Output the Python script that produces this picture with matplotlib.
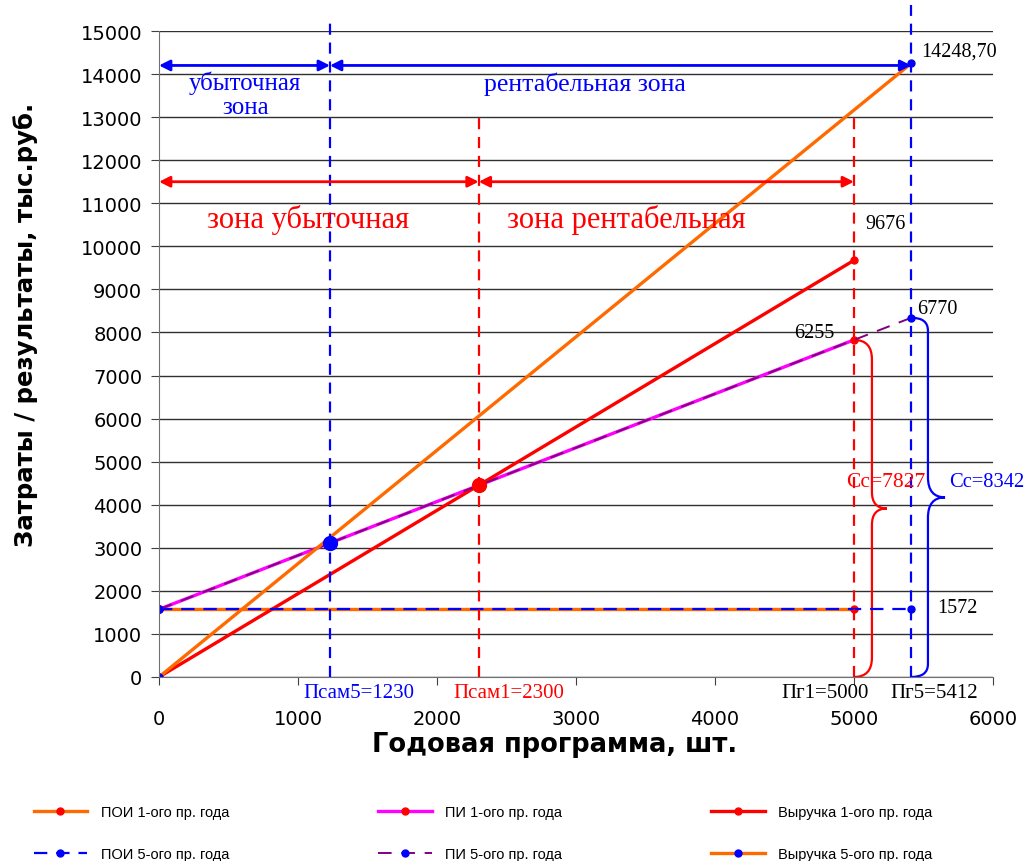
import matplotlib
matplotlib.use("Agg")
import matplotlib.pyplot as plt
from matplotlib.path import Path
from matplotlib.patches import PathPatch

# ---- data ----
x_year1 = [0, 5000]
x_year5 = [0, 5412]
poi1 = [1572, 1572]
pi1 = [1572, 7827]
rev1 = [0, 9676]
poi5 = [1572, 1572]
pi5 = [1572, 8342]
rev5 = [0, 14248.70]
breakeven5 = (1230, 3110)
breakeven1 = (2300, 4450)
x_ticks = [0, 1000, 2000, 3000, 4000, 5000, 6000]
y_ticks = list(range(0, 15001, 1000))

ORANGE = "#FF6A00"
MAGENTA = "#FF00FF"
PURPLE = "#800080"
RED = "#FF0000"
BLUE = "#0000FF"

W, H = 1027, 862
fig = plt.figure(figsize=(W / 100, H / 100), dpi=100)
ax = fig.add_axes([159/W, 1-678/H, (993-159)/W, (678-32)/H])
ax.set_xlim(0, 6000)
ax.set_ylim(0, 15000)
ax.set_xticks(x_ticks)
ax.set_yticks(y_ticks)
ax.tick_params(labelsize=14, length=6, color="#404040", direction="out")
ax.tick_params(axis="x", pad=17)
ax.tick_params(axis="y", pad=6)
ax.grid(axis="y", color="#303030", lw=1)
ax.set_axisbelow(True)
for s in ["top", "right"]:
    ax.spines[s].set_visible(False)
for s in ["left", "bottom"]:
    ax.spines[s].set_color("#707070")

lw = 2.4
ms = 5
ax.plot(x_year1, poi1, color=ORANGE, lw=lw, marker="o", mfc=RED, mec=RED, ms=ms, label="ПОИ 1-ого пр. года")
ax.plot(x_year1, pi1, color=MAGENTA, lw=lw, marker="o", mfc=RED, mec=RED, ms=ms, label="ПИ 1-ого пр. года")
ax.plot(x_year1, rev1, color=RED, lw=lw, marker="o", mfc=RED, mec=RED, ms=ms, label="Выручка 1-ого пр. года")
ax.plot(x_year5, poi5, color=BLUE, lw=1.6, ls=(0, (6, 4)), marker="o", mfc=BLUE, mec=BLUE, ms=ms, label="ПОИ 5-ого пр. года")
ax.plot(x_year5, pi5, color=PURPLE, lw=1.4, ls=(0, (7, 5)), marker="o", mfc=BLUE, mec=BLUE, ms=ms, label="ПИ 5-ого пр. года")
ax.plot(x_year5, rev5, color=ORANGE, lw=lw, marker="o", mfc=BLUE, mec=BLUE, ms=ms, label="Выручка 5-ого пр. года")

ax.plot([breakeven5[0]], [breakeven5[1]], "o", color=BLUE, ms=10, zorder=5)
ax.plot([breakeven1[0]], [breakeven1[1]], "o", color=RED, ms=10, zorder=5)

# vertical dashed lines
vd = dict(lw=1.6, ls=(0, (5, 3.5)))
ax.plot([breakeven5[0]] * 2, [0, 15350], color=BLUE, clip_on=False, **vd)
ax.plot([x_year5[1]] * 2, [0, 15600], color=BLUE, clip_on=False, **vd)
ax.plot([breakeven1[0]] * 2, [0, 13000], color=RED, **vd)
ax.plot([x_year1[1]] * 2, [0, 13000], color=RED, **vd)

# zone arrows
def darrow(x0, x1, y, c):
    ax.annotate("", xy=(x1, y), xytext=(x0, y),
                arrowprops=dict(arrowstyle="<|-|>", color=c, lw=2, mutation_scale=16,
                                shrinkA=0, shrinkB=0))

darrow(0, breakeven5[0], 14200, BLUE)
darrow(breakeven5[0], x_year5[1], 14200, BLUE)
darrow(0, breakeven1[0], 11500, RED)
darrow(breakeven1[0], x_year1[1], 11500, RED)

serif = "Liberation Serif"
ax.text(620, 13820, "убыточная", color=BLUE, family=serif, fontsize=18,
        ha="center", va="center")
ax.text(620, 13230, "зона", color=BLUE, family=serif, fontsize=18,
        ha="center", va="center")
ax.text(3065, 13790, "рентабельная зона", color=BLUE, family=serif, fontsize=18.5,
        ha="center", va="center")
ax.text(1072, 10640, "зона убыточная", color=RED, family=serif, fontsize=22,
        ha="center", va="center")
ax.text(3360, 10640, "зона рентабельная", color=RED, family=serif, fontsize=22,
        ha="center", va="center")

num = dict(family=serif, fontsize=14.5, va="center")
ax.text(5482, 14535, "14248,70", ha="left", **num)
ax.text(5080, 10540, "9676", ha="left", **num)
ax.text(5455, 8567, "6770", ha="left", **num)
ax.text(4860, 8010, "6255", ha="right", **num)
ax.text(5597, 1625, "1572", ha="left", **num)
ax.text(5230, 4550, "Cc=7827", family=serif, fontsize=15.5, color=RED, ha="center", va="center")
ax.text(5685, 4550, "Cc=8342", family=serif, fontsize=14.8, color=BLUE, ha="left", va="center")

# x marker labels
xl = dict(family=serif, fontsize=15, ha="left", va="center")
ax.text(1036, -350, "Псам5=1230", color=BLUE, **xl)
ax.text(2115, -350, "Псам1=2300", color=RED, **xl)
ax.text(4475, -350, "Пг1=5000", color="black", **xl)
ax.text(5259, -350, "Пг5=5412", color="black", **xl)

# braces
def brace(x0, xs, xp, ytop, ymid, c, d1, d2):
    verts = [(x0, ytop), (xs, ytop), (xs, ytop - d1),
             (xs, ymid + d2), (xs, ymid), (xp, ymid),
             (xs, ymid), (xs, ymid - d2),
             (xs, d1), (xs, 0), (x0, 0)]
    codes = [Path.MOVETO, Path.CURVE3, Path.CURVE3,
             Path.LINETO, Path.CURVE3, Path.CURVE3,
             Path.CURVE3, Path.CURVE3,
             Path.LINETO, Path.CURVE3, Path.CURVE3]
    ax.add_patch(PathPatch(Path(verts, codes), fill=False, edgecolor=c, lw=1.6, clip_on=False))

brace(x_year1[1], 5129, 5237, pi1[1], pi1[1] / 2, RED, 450, 380)
brace(x_year5[1], 5532, 5655, pi5[1], pi5[1] / 2, BLUE, 300, 470)

fig.text(555 / W, 1 - 745 / H, "Годовая программа, шт.", fontsize=18.5, fontweight="bold",
         ha="center", va="center")
fig.text(26 / W, 1 - 325 / H, "Затраты / результаты, тыс.руб.", fontsize=17.6, fontweight="bold",
         ha="center", va="center", rotation=90)

handles, labels = ax.get_legend_handles_labels()
order = [0, 3, 1, 4, 2, 5]
fig.legend([handles[i] for i in order], [labels[i] for i in order], ncol=3,
           loc="center", bbox_to_anchor=(0.47, 0.0325), frameon=False,
           handlelength=3.7, handletextpad=0.9, columnspacing=10.2, labelspacing=1.9,
           prop={"family": "Liberation Sans", "size": 10.5})

fig.savefig("out.png", dpi=100)
